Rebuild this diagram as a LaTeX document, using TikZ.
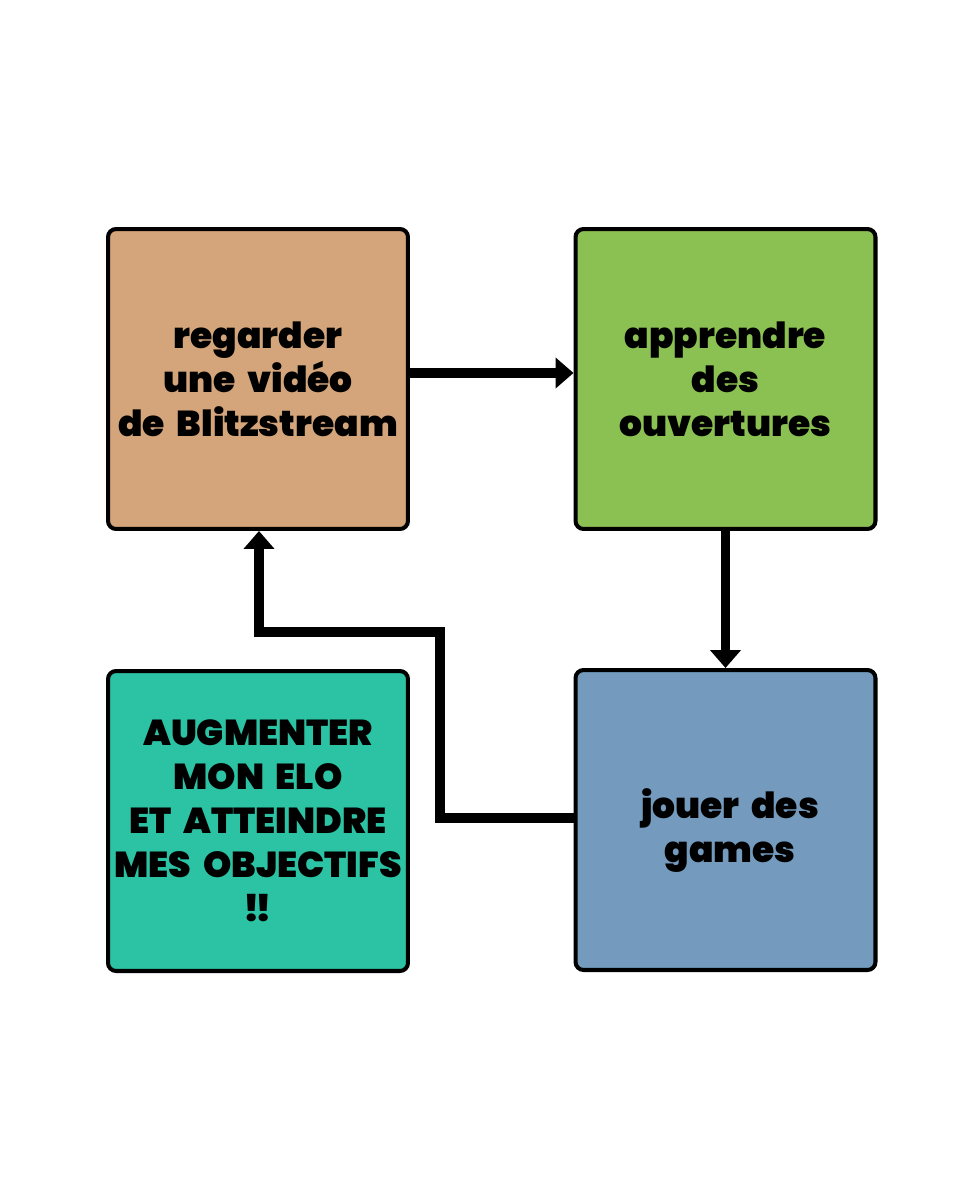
\documentclass[tikz,border=0pt]{standalone}
\usepackage{fontspec}
\setmainfont{Poppins}[BoldFont={Poppins Black}]
\usetikzlibrary{arrows.meta}
\definecolor{cbrown}{RGB}{212,165,123}
\definecolor{cgreen}{RGB}{139,192,82}
\definecolor{cteal}{RGB}{43,195,164}
\definecolor{cblue}{RGB}{116,155,190}
\newcommand{\boxfont}{\fontsize{20.5}{25}\selectfont\bfseries\spaceskip=0.33em plus 0.1em\relax}
\tikzset{
  box/.style={draw=black, line width=2.3pt, rounded corners=0.16cm,
    minimum width=6cm, minimum height=6cm, align=center, inner sep=0pt,
    font=\boxfont},
  arr/.style={line width=5.2pt, draw=black,
    -{Triangle[width=0.6cm,length=0.36cm]}},
}
\begin{document}
\begin{tikzpicture}[x=0.02cm,y=-0.02cm]
\fill[white] (0,0) rectangle (960,1200);
\useasboundingbox (0,0) rectangle (960,1200);
\node[box, fill=cbrown] (tl) at (258,379) {regarder\\une vidéo\\de Blitzstream};
\node[box, fill=cgreen] (tr) at (725.5,379) {apprendre\\des\\ouvertures};
\node[box, fill=cteal] (bl) at (258,821) {AUGMENTER\\MON ELO\\ET ATTEINDRE\\MES OBJECTIFS\\!\kern-0.12em!};
\node[box, fill=cblue] (br) at (725.5,820) {};
\node[font=\boxfont, align=center, inner sep=0pt] (brt) at (730,831) {jouer des\\games};
\coordinate (c1) at (440,818);
\coordinate (c2) at (440,632);
\coordinate (c3) at (259,632);
\draw[arr] ([yshift=0.12cm]tl.east) -- ([yshift=0.12cm]tr.west);
\draw[arr] (tr.south) -- (br.north);
\draw[arr] (br.west |- c1) -- (c1) -- (c2) -- (c3) -- (tl.south -| c3);
\end{tikzpicture}
\end{document}
